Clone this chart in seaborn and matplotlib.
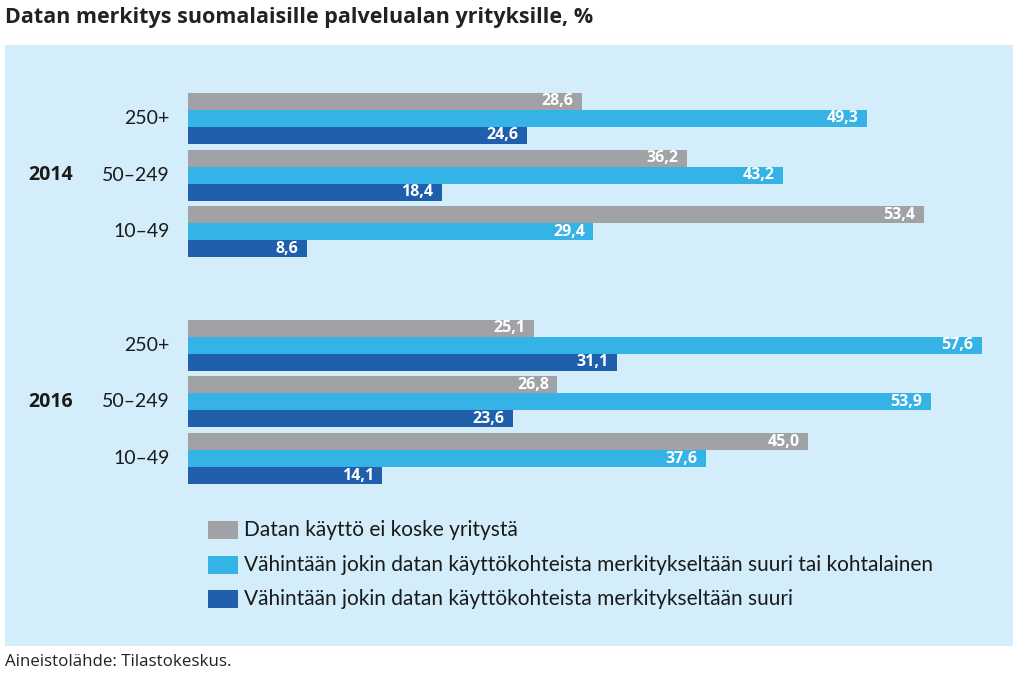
import matplotlib
matplotlib.use("Agg")
import matplotlib.pyplot as plt
from matplotlib.patches import Rectangle
import seaborn as sns
import pandas as pd
import numpy as np

years = ["2014", "2016"]
sizes = ["250+", "50–249", "10–49"]
series = [
    "Datan käyttö ei koske yritystä",
    "Vähintään jokin datan käyttökohteista merkitykseltään suuri tai kohtalainen",
    "Vähintään jokin datan käyttökohteista merkitykseltään suuri",
]
# values per year, per size (250+, 50–249, 10–49)
ei_koske = {"2014": [28.6, 36.2, 53.4], "2016": [25.1, 26.8, 45.0]}
suuri_tai_kohtalainen = {"2014": [49.3, 43.2, 29.4], "2016": [57.6, 53.9, 37.6]}
suuri = {"2014": [24.6, 18.4, 8.6], "2016": [31.1, 23.6, 14.1]}

colors = ["#a0a2a5", "#35b3e6", "#1f5fab"]
panel_bg = "#d3eefa"

rows = []
for y in years:
    for i, s in enumerate(sizes):
        key = f"{y} {s}"
        rows.append((key, series[0], ei_koske[y][i]))
        rows.append((key, series[1], suuri_tai_kohtalainen[y][i]))
        rows.append((key, series[2], suuri[y][i]))
df = pd.DataFrame(rows, columns=["row", "series", "value"])
order = [f"2014 {s}" for s in sizes] + ["gap"] + [f"2016 {s}" for s in sizes]

sns.set_theme(style="white")
plt.rcParams["font.family"] = ["Lato", "DejaVu Sans"]

W, H = 1024, 676
fig = plt.figure(figsize=(W / 100, H / 100), dpi=100)
fig.patch.set_facecolor("white")
fig.patches.append(Rectangle((5 / W, 1 - 646 / H), (1013 - 5) / W, (646 - 45) / H,
                             transform=fig.transFigure, facecolor=panel_bg,
                             edgecolor="none", zorder=-10))

slot = 56.7
top_px = 118.5 - 0.5 * slot
bot_px = 458.5 + 0.5 * slot
ax = fig.add_axes([188 / W, 1 - bot_px / H, (1010 - 188) / W, (bot_px - top_px) / H])
ax.set_zorder(5)
ax.patch.set_alpha(0)

sns.barplot(data=df, y="row", x="value", hue="series", order=order, hue_order=series,
            palette=colors, orient="h", width=0.9, saturation=1, ax=ax, legend=False,
            linewidth=0, errorbar=None)
ax.set_xlim(0, (1010 - 188) / 13.78)
ax.set_ylim(6.5, -0.5)
ax.set_xticks([])
ax.set_yticks([])
ax.set_xlabel("")
ax.set_ylabel("")
for sp in ax.spines.values():
    sp.set_visible(False)

for cont in ax.containers:
    labels = ["" if np.isnan(v) else f"{v:.1f}".replace(".", ",") for v in cont.datavalues]
    texts = ax.bar_label(cont, labels=labels, label_type="edge", padding=-6, color="white",
                         fontsize=11.5, fontweight="bold", family=["Open Sans", "DejaVu Sans"])
    for t in texts:
        t.set_ha("right")

# category labels
for idx, key in enumerate(order):
    if key == "gap":
        continue
    y, s = key.split(" ")
    ax.annotate(s, xy=(0, idx), xycoords=("axes fraction", "data"), xytext=(-13, 0),
                textcoords="offset points", ha="right", va="center", fontsize=14,
                color="#1a1a1a")
    if s == "50–249":
        ax.annotate(y, xy=(0, idx), xycoords=("axes fraction", "data"),
                    xytext=((28 - 188) * 0.72, 0), textcoords="offset points",
                    ha="left", va="center", fontsize=14, fontweight="bold",
                    color="#1a1a1a", family=["Open Sans", "DejaVu Sans"])

# legend
leg_y = [530, 565, 599]
for c, lab, ly in zip(colors, series, leg_y):
    fig.patches.append(Rectangle((208 / W, 1 - (ly + 9) / H), 30 / W, 18 / H,
                                 transform=fig.transFigure, facecolor=c, edgecolor="none"))
    fig.text(244 / W, 1 - ly / H, lab, ha="left", va="center", fontsize=15, color="#1a1a1a")

fig.text(5 / W, 1 - 18 / H, "Datan merkitys suomalaisille palvelualan yrityksille, %",
         ha="left", va="center", fontsize=15.5, fontweight="bold", color="#222222",
         family=["Open Sans", "DejaVu Sans"])
fig.text(5 / W, 1 - 662 / H, "Aineistolähde: Tilastokeskus.", ha="left", va="center",
         fontsize=12.2, color="#222222", family=["Open Sans", "DejaVu Sans"])

fig.savefig("out.png", dpi=100)
